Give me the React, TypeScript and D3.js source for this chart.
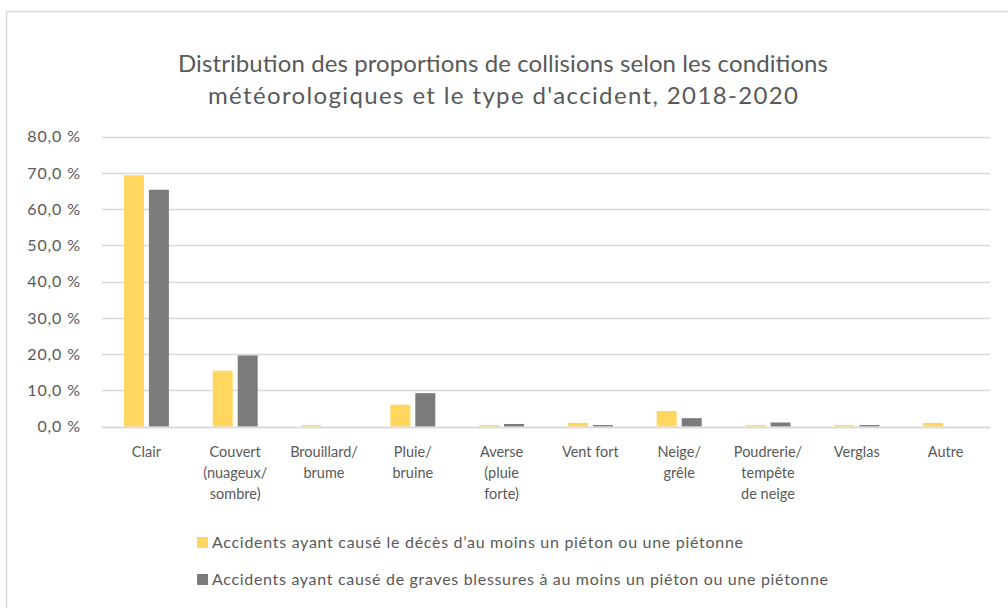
import React, { useRef, useEffect } from 'react';
import * as d3 from 'd3';

const categories = [
    'Clair',
    'Couvert (nuageux/ sombre)',
    'Brouillard/ brume',
    'Pluie/ bruine',
    'Averse (pluie forte)',
    'Vent fort',
    'Neige/ grêle',
    'Poudrerie/ tempête de neige',
    'Verglas',
    'Autre',
];
// line breaks as shown under the axis
const categoryLines = [
    ['Clair'],
    ['Couvert', '(nuageux/', 'sombre)'],
    ['Brouillard/', 'brume'],
    ['Pluie/', 'bruine'],
    ['Averse', '(pluie', 'forte)'],
    ['Vent fort'],
    ['Neige/', 'grêle'],
    ['Poudrerie/', 'tempête', 'de neige'],
    ['Verglas'],
    ['Autre'],
];
const deces = [69.3, 15.4, 0.4, 6.0, 0.4, 1.0, 4.3, 0.4, 0.4, 1.0];
const blessures = [65.3, 19.6, 0, 9.2, 0.7, 0.4, 2.3, 1.1, 0.4, 0];
const seriesNames = [
    'Accidents ayant causé le décès d’au moins un piéton ou une piétonne',
    'Accidents ayant causé de graves blessures à au moins un piéton ou une piétonne',
];
const yTicks = [0, 10, 20, 30, 40, 50, 60, 70, 80];
const titleLines = [
    'Distribution des proportions de collisions selon les conditions',
    "météorologiques et le type d'accident, 2018-2020",
];

const colors = ['#FFD75E', '#7B7B7B'];
const font = 'Lato, "Open Sans", sans-serif';

const WeatherChart = () => {
    const svgRef = useRef<SVGSVGElement | null>(null);
    const width = 1008;
    const height = 608;

    useEffect(() => {
        const svg = d3.select(svgRef.current);
        svg.selectAll('*').remove();
        const margin = { top: 136.5, left: 102, right: 1008 - 990, bottom: 608 - 426.5 };

        // outer frame (right/bottom edges fall outside the picture)
        svg.append('rect')
            .attr('x', 6.5).attr('y', 11.5)
            .attr('width', 1100).attr('height', 700)
            .attr('fill', '#fff').attr('stroke', '#D9D9D9').attr('stroke-width', 1.5);

        const x = d3.scaleBand()
            .domain(categories)
            .range([margin.left, width - margin.right]);

        const y = d3.scaleLinear()
            .domain([0, 80])
            .range([height - margin.bottom, margin.top]);

        // title
        const titleWidths = [650, 590];
        svg.append('g')
            .selectAll('text')
            .data(titleLines)
            .join('text')
            .attr('x', 503)
            .attr('y', (d, i) => 72 + i * 32)
            .attr('text-anchor', 'middle')
            .attr('font-family', font)
            .attr('font-size', 24)
            .attr('fill', '#595959')
            .attr('textLength', (d, i) => titleWidths[i])
            .attr('lengthAdjust', 'spacing')
            .text(d => d);

        // gridlines
        svg.append('g')
            .selectAll('line')
            .data(yTicks)
            .join('line')
            .attr('x1', margin.left)
            .attr('x2', width - margin.right)
            .attr('y1', d => Math.round(y(d)) + 0.5)
            .attr('y2', d => Math.round(y(d)) + 0.5)
            .attr('stroke', '#D9D9D9')
            .attr('stroke-width', 1.3);

        // y labels
        svg.append('g')
            .selectAll('text')
            .data(yTicks)
            .join('text')
            .attr('x', 81)
            .attr('y', d => y(d))
            .attr('dy', '0.36em')
            .attr('text-anchor', 'end')
            .attr('font-family', font)
            .attr('font-size', 16)
            .attr('letter-spacing', 0.9)
            .attr('fill', '#595959')
            .text(d => d3.format('.1f')(d).replace('.', ',') + '\u00a0%');

        // bars
        const bw = 20;
        [deces, blessures].forEach((vals, s) => {
            svg.append('g')
                .attr('fill', colors[s])
                .selectAll('rect')
                .data(vals)
                .join('rect')
                .attr('x', (d, i) => x(categories[i])! + x.bandwidth() / 2 + (s === 0 ? -2.5 - bw : 2.5))
                .attr('y', d => y(d))
                .attr('width', bw)
                .attr('height', d => y(0) - y(d));
        });

        // x axis line on top of bars
        svg.append('line')
            .attr('x1', margin.left).attr('x2', width - margin.right)
            .attr('y1', Math.round(y(0)) + 0.5).attr('y2', Math.round(y(0)) + 0.5)
            .attr('stroke', '#D9D9D9').attr('stroke-width', 1.3);

        // x labels
        svg.append('g')
            .selectAll('text')
            .data(categoryLines)
            .join('text')
            .attr('text-anchor', 'middle')
            .attr('font-family', font)
            .attr('font-size', 14.5)
            .attr('fill', '#595959')
            .each(function (lines, i) {
                const cx = x(categories[i])! + x.bandwidth() / 2;
                d3.select(this)
                    .selectAll('tspan')
                    .data(lines)
                    .join('tspan')
                    .attr('x', cx)
                    .attr('y', (d, j) => 457 + j * 21)
                    .text(d => d);
            });

        // legend
        const legendWidths = [531, 616];
        const legend = svg.append('g')
            .selectAll('g')
            .data(seriesNames)
            .join('g')
            .attr('transform', (d, i) => `translate(197,${537 + i * 37})`);
        legend.append('rect')
            .attr('width', 11).attr('height', 11)
            .attr('fill', (d, i) => colors[i]);
        legend.append('text')
            .attr('x', 15)
            .attr('y', 5.5)
            .attr('dy', '0.36em')
            .attr('font-family', font)
            .attr('font-size', 16)
            .attr('fill', '#595959')
            .attr('textLength', (d, i) => legendWidths[i])
            .attr('lengthAdjust', 'spacing')
            .text(d => d);
    }, []);

    return (
        <svg
            ref={svgRef}
            width={width}
            height={height}
            style={{ position: 'absolute', left: 0, top: 0 }}
        ></svg>
    );
};

export default function App() {
    return <WeatherChart />;
}
